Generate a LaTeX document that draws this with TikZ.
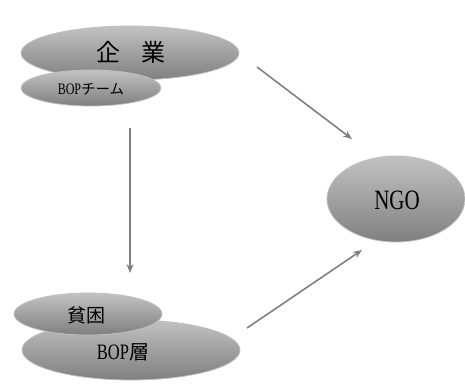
\documentclass[tikz,border=0pt]{standalone}
\usepackage{fontspec}
\setmainfont{Liberation Serif}
\newfontfamily\jpfont{Noto Sans CJK JP}
\newfontfamily\latc[FakeStretch=0.75]{Liberation Serif}
\usetikzlibrary{shapes.geometric,arrows.meta}
\begin{document}
\begin{tikzpicture}[x=1pt,y=-1pt,
  blob/.style={ellipse, draw=black!25, line width=0.8pt, top color=black!24, bottom color=black!50, inner sep=0pt},
  conn/.style={draw=black!50, line width=1.6pt, -{Stealth[length=9pt,width=7pt]}}]
\useasboundingbox (0,0) rectangle (465,383);
\node[blob, minimum width=218pt, minimum height=54pt] (kigyo) at (130,53) {};
\node[blob, minimum width=140pt, minimum height=36pt] (team) at (91,88) {};
\node[blob, minimum width=218pt, minimum height=60pt] (bop) at (131,350) {};
\node[blob, minimum width=148pt, minimum height=42pt] (hinkon) at (88,314) {};
\node[blob, minimum width=138pt, minimum height=86pt] (ngo) at (396,199) {};
\node (tkigyo) at (131,52) {\jpfont\fontsize{24}{24}\selectfont 企\hspace{0.9em}業};
\node (tteam) at (91,89) {\latc\fontsize{16}{16}\selectfont BOP\jpfont\fontsize{14.5}{14.5}\selectfont チーム};
\node (thinkon) at (86,315) {\jpfont\fontsize{19}{19}\selectfont 貧困};
\node (tbop) at (123,352) {\latc\fontsize{22}{22}\selectfont BOP\jpfont\fontsize{20}{20}\selectfont 層};
\node (tngo) at (397,200) {\latc\fontsize{28}{28}\selectfont NGO};
\coordinate (a1) at (257,67);
\coordinate (a2) at (352,139);
\coordinate (b1) at (130,128);
\coordinate (b2) at (130,273);
\coordinate (c1) at (247,328);
\coordinate (c2) at (362,250);
\draw[conn] (a1) -- (a2);
\draw[conn] (b1) -- (b2);
\draw[conn] (c1) -- (c2);
\end{tikzpicture}
\end{document}
